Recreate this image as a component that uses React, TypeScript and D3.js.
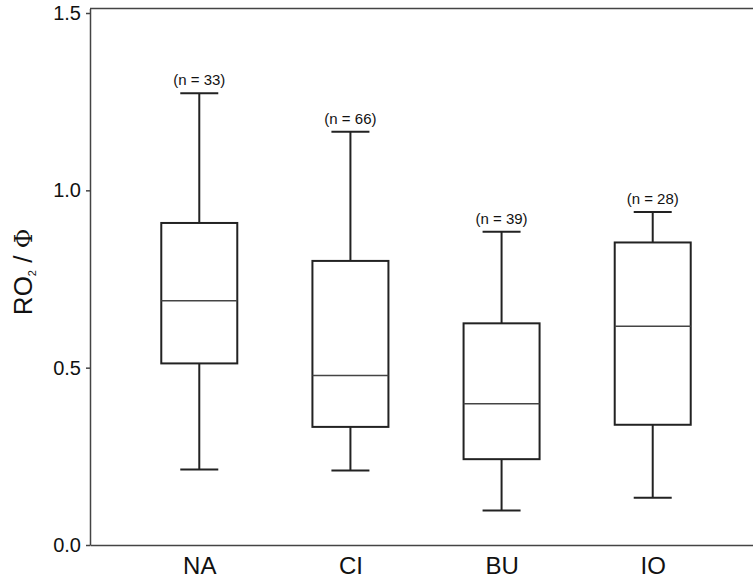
import React, { useEffect, useRef } from "react";
import * as d3 from "d3";

// values
const categories = ["NA", "CI", "BU", "IO"];
const whiskerLow = [0.213, 0.21, 0.097, 0.133];
const q1 = [0.512, 0.333, 0.242, 0.339];
const median = [0.689, 0.478, 0.398, 0.617];
const q3 = [0.908, 0.801, 0.625, 0.853];
const whiskerHigh = [1.274, 1.165, 0.883, 0.939];
const counts = [33, 66, 39, 28];
const yTicks = [0, 0.5, 1.0, 1.5];

const width = 753;
const height = 580;
const margin = { top: 8.5, left: 90, bottom: 35 };
const plotBottom = height - margin.bottom;
const plotRight = 762;

const App = () => {
  const ref = useRef<SVGSVGElement | null>(null);

  useEffect(() => {
    const svg = d3.select(ref.current);
    svg.selectAll("*").remove();

    const y = d3.scaleLinear().domain([0, 1.5127]).range([plotBottom, margin.top]);
    const x = d3
      .scalePoint<string>()
      .domain(categories)
      .range([margin.left, plotRight])
      .padding(0.723);

    const boxW = 76;
    const capW = 38;
    const ink = "#222";
    const font = "Liberation Sans, Arial, sans-serif";

    // top frame line
    svg
      .append("line")
      .attr("x1", margin.left)
      .attr("x2", plotRight)
      .attr("y1", margin.top)
      .attr("y2", margin.top)
      .attr("stroke", "#444")
      .attr("stroke-width", 1.5);

    // axes
    const yAxis = d3
      .axisLeft(y)
      .tickValues(yTicks)
      .tickFormat(d3.format(".1f"))
      .tickSize(4)
      .tickSizeOuter(0)
      .tickPadding(5);

    const yg = svg
      .append("g")
      .attr("transform", `translate(${margin.left},0)`)
      .call(yAxis);
    yg.selectAll("path,line").attr("stroke", "#444").attr("stroke-width", 1.5);
    yg.selectAll("text").attr("font-size", 20).attr("font-family", font).attr("fill", "#111");

    const xAxis = d3.axisBottom(x).tickSize(0).tickSizeOuter(0).tickPadding(12);
    const xg = svg
      .append("g")
      .attr("transform", `translate(0,${plotBottom})`)
      .call(xAxis);
    xg.selectAll("path").attr("stroke", "#444").attr("stroke-width", 1.5);
    xg.selectAll("text").attr("font-size", 24).attr("font-family", font).attr("fill", "#111");

    // y label
    const label = svg
      .append("text")
      .attr("transform", `translate(32,${y(0.77)}) rotate(-90)`)
      .attr("text-anchor", "middle")
      .attr("font-size", 26)
      .attr("font-family", font)
      .attr("fill", "#111");
    label.append("tspan").text("RO");
    label.append("tspan").attr("font-size", 11).attr("dy", 4).text("2");
    label.append("tspan").attr("dy", -4).text(" / ");
    label.append("tspan").attr("font-family", "DejaVu Serif, serif").attr("font-size", 24).text("Φ");

    const idx = d3.range(categories.length);
    const boxes = svg
      .selectAll("g.box")
      .data(idx)
      .enter()
      .append("g")
      .attr("class", "box");

    // whiskers
    boxes
      .append("line")
      .attr("x1", (i) => x(categories[i]) as number)
      .attr("x2", (i) => x(categories[i]) as number)
      .attr("y1", (i) => y(whiskerHigh[i]))
      .attr("y2", (i) => y(q3[i]))
      .attr("stroke", ink)
      .attr("stroke-width", 2);
    boxes
      .append("line")
      .attr("x1", (i) => x(categories[i]) as number)
      .attr("x2", (i) => x(categories[i]) as number)
      .attr("y1", (i) => y(q1[i]))
      .attr("y2", (i) => y(whiskerLow[i]))
      .attr("stroke", ink)
      .attr("stroke-width", 2);

    // caps
    [whiskerHigh, whiskerLow].forEach((arr) => {
      boxes
        .append("line")
        .attr("x1", (i) => (x(categories[i]) as number) - capW / 2)
        .attr("x2", (i) => (x(categories[i]) as number) + capW / 2)
        .attr("y1", (i) => y(arr[i]))
        .attr("y2", (i) => y(arr[i]))
        .attr("stroke", ink)
        .attr("stroke-width", 2);
    });

    // box
    boxes
      .append("rect")
      .attr("x", (i) => (x(categories[i]) as number) - boxW / 2)
      .attr("width", boxW)
      .attr("y", (i) => y(q3[i]))
      .attr("height", (i) => y(q1[i]) - y(q3[i]))
      .attr("fill", "white")
      .attr("stroke", ink)
      .attr("stroke-width", 2);

    // median
    boxes
      .append("line")
      .attr("x1", (i) => (x(categories[i]) as number) - boxW / 2)
      .attr("x2", (i) => (x(categories[i]) as number) + boxW / 2)
      .attr("y1", (i) => y(median[i]))
      .attr("y2", (i) => y(median[i]))
      .attr("stroke", "#444")
      .attr("stroke-width", 1.5);

    // n labels
    boxes
      .append("text")
      .attr("x", (i) => x(categories[i]) as number)
      .attr("y", (i) => y(whiskerHigh[i]) - 8)
      .attr("text-anchor", "middle")
      .attr("font-size", 15)
      .attr("font-family", font)
      .attr("fill", "#111")
      .text((i) => `(n = ${counts[i]})`);
  }, []);

  return (
    <svg
      ref={ref}
      width={width}
      height={height}
      style={{ position: "absolute", left: 0, top: 0, background: "white" }}
    />
  );
};

export default App;
